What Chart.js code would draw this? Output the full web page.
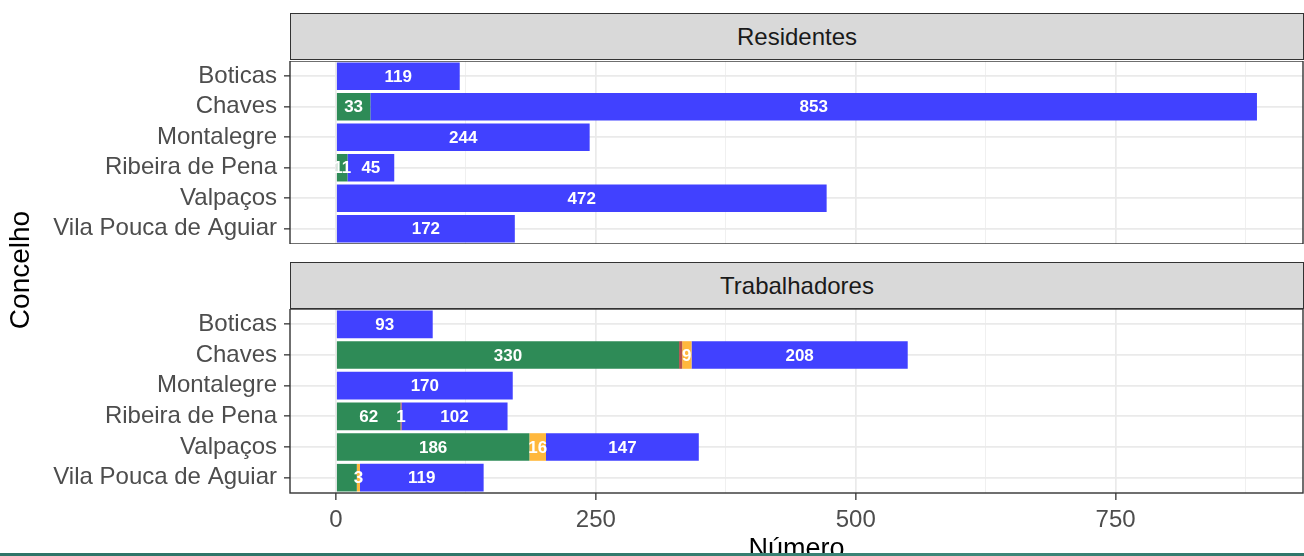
<!DOCTYPE html>
<html>
<head>
<meta charset="utf-8">
<script src="https://cdn.jsdelivr.net/npm/chart.js@4/dist/chart.umd.min.js"></script>
<style>
body{margin:0;background:#fff;}
#wrap{position:relative;width:1304px;height:556px;overflow:hidden;background:#fff;
font-family:"Liberation Sans",Arial,sans-serif;}
canvas{position:absolute;left:0;}
.strip{position:absolute;left:290px;width:1012px;height:45px;background:#D9D9D9;
border:1.3px solid #333;color:#1A1A1A;font-size:24px;text-align:center;line-height:46px;}
#ytitle{position:absolute;left:-40px;top:254px;width:120px;text-align:center;font-size:28px;
color:#000;transform:rotate(-90deg);}
#band{position:absolute;left:0;top:553px;width:1304px;height:3px;
background:linear-gradient(to right,#2E7468,#2F7669 40%,#3E887A 75%,#2F7569);}
</style>
</head>
<body>
<div id="wrap">
    <div class="strip" style="top:13px">Residentes</div>
    <canvas id="chartRes" width="1304" height="183" style="top:61px"></canvas>
    <div class="strip" style="top:262px">Trabalhadores</div>
    <canvas id="chartTrab" width="1304" height="257" style="top:309px"></canvas>
    <div id="ytitle">Concelho</div>
    <div id="band"></div>
</div>
<script>
const concelhos = [
    "Boticas",
    "Chaves",
    "Montalegre",
    "Ribeira de Pena",
    "Valpaços",
    "Vila Pouca de Aguiar"
];

const seriesNames = ["Grupo 1","Grupo 2","Grupo 3","Grupo 4"];
const seriesColors = ["#2E8B57","#B5524F","#FFB83D","#4141FF"];

// Residentes
const resGrupo1 = [0,33,0,11,0,0];
const resGrupo2 = [0,0,0,0,0,0];
const resGrupo3 = [0,0,0,0,0,0];
const resGrupo4 = [119,853,244,45,472,172];

// Trabalhadores
const trabGrupo1 = [0,330,0,62,186,20];
const trabGrupo2 = [0,3,0,1,0,0];
const trabGrupo3 = [0,9,0,0,16,3];
const trabGrupo4 = [93,208,170,102,147,119];

const xTicks = [0,250,500,750];
const xMin = -44.3;
const xMax = 930.3;

Chart.defaults.font.family = "'Liberation Sans', Arial, sans-serif";

// moldura do painel + etiquetas das barras
const panelPlugin = {
    id:"panel",
    afterDatasetsDraw(chart){
        const ctx = chart.ctx;
        const boxes = [];
        ctx.save();
        ctx.font = "bold 17px 'Liberation Sans', Arial, sans-serif";
        ctx.fillStyle = "#fff";
        ctx.textAlign = "center";
        ctx.textBaseline = "middle";
        // azul, laranja, castanho, verde
        for(let d = chart.data.datasets.length-1; d >= 0; d--){
            const meta = chart.getDatasetMeta(d);
            meta.data.forEach((bar,i)=>{
                const v = chart.data.datasets[d].data[i];
                if(!v) return;
                const txt = String(v);
                const w = ctx.measureText(txt).width;
                const cx = (bar.x + bar.base)/2;
                const box = {l:cx-w/2, r:cx+w/2, y:bar.y};
                const hit = boxes.some(b =>
                    Math.abs(b.y-box.y) < 1 && b.l < box.r && box.l < b.r
                );
                if(hit) return;
                boxes.push(box);
                ctx.fillText(txt, cx, bar.y+1);
            });
        }
        const a = chart.chartArea;
        ctx.strokeStyle = "#333";
        ctx.lineWidth = 1.4;
        ctx.strokeRect(a.left, a.top, a.right-a.left, a.bottom-a.top);
        ctx.restore();
    }
};

function noPadding(scale){
    scale.paddingTop = 0;
    scale.paddingBottom = 0;
    scale.paddingLeft = 0;
    scale.paddingRight = 0;
}

function makeDatasets(values){
    return values.map((vals,k)=>({
        label:seriesNames[k],
        data:vals,
        backgroundColor:seriesColors[k],
        borderWidth:0,
        barPercentage:0.9,
        categoryPercentage:1
    }));
}

function makeChart(id, values, bottom){
    return new Chart(document.getElementById(id),{
        type:"bar",
        data:{
            labels:concelhos,
            datasets:makeDatasets(values)
        },
        options:{
            indexAxis:"y",
            responsive:false,
            animation:false,
            events:[],
            layout:{padding:{left:0,right:1,top:0,bottom:0}},
            plugins:{
                legend:{display:false},
                tooltip:{enabled:false}
            },
            scales:{
                x:{
                    type:"linear",
                    stacked:true,
                    min:xMin,
                    max:xMax,
                    afterBuildTicks(scale){
                        const t = [];
                        for(let v = 0; v <= 875; v += 125) t.push({value:v});
                        scale.ticks = t;
                    },
                    afterFit(scale){
                        scale.height = bottom ? 73 : 0;
                        noPadding(scale);
                    },
                    border:{display:false},
                    grid:{
                        color:c => xTicks.includes(c.tick.value) ? "#EAEAEA" : "#F0F0F0",
                        lineWidth:c => xTicks.includes(c.tick.value) ? 1.7 : 1,
                        drawTicks:bottom,
                        tickLength:7,
                        tickColor:c => xTicks.includes(c.tick.value) ? "#333" : "rgba(0,0,0,0)",
                        tickWidth:1.3
                    },
                    ticks:{
                        display:bottom,
                        padding:6,
                        maxRotation:0,
                        autoSkip:false,
                        color:"#4D4D4D",
                        font:{size:24},
                        callback:v => xTicks.includes(v) ? String(v) : ""
                    },
                    title:{
                        display:bottom,
                        text:"Número",
                        color:"#000",
                        font:{size:27},
                        padding:{top:0,bottom:0}
                    }
                },
                y:{
                    stacked:true,
                    afterFit(scale){
                        scale.width = 290;
                        noPadding(scale);
                    },
                    border:{display:false},
                    grid:{
                        offset:false,
                        color:"#EAEAEA",
                        lineWidth:1.7,
                        tickLength:6,
                        tickColor:"#333",
                        tickWidth:1.3
                    },
                    ticks:{
                        padding:7,
                        autoSkip:false,
                        color:"#4D4D4D",
                        font:{size:24}
                    }
                }
            }
        },
        plugins:[panelPlugin]
    });
}

makeChart("chartRes",[resGrupo1,resGrupo2,resGrupo3,resGrupo4],false);
makeChart("chartTrab",[trabGrupo1,trabGrupo2,trabGrupo3,trabGrupo4],true);
</script>
</body>
</html>
